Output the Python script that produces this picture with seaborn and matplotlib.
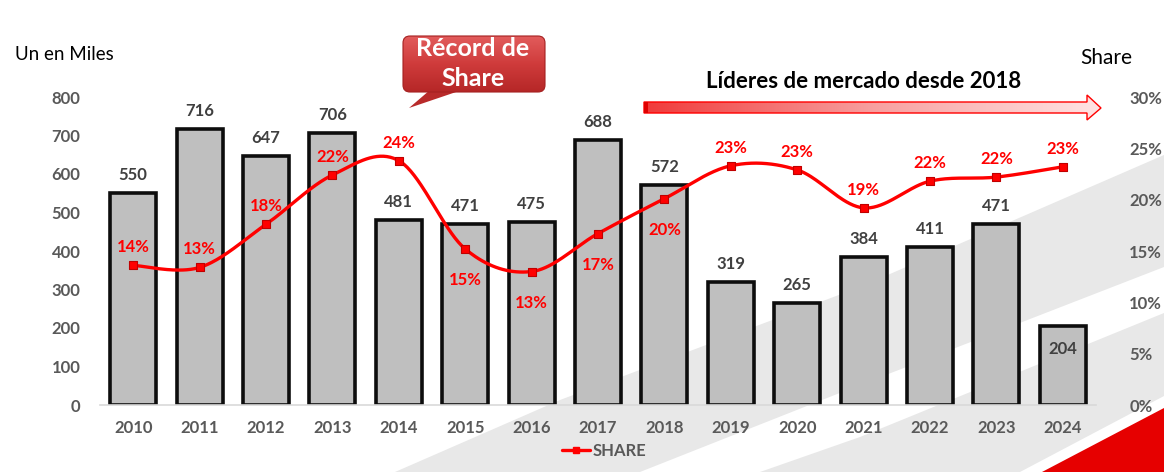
import matplotlib.pyplot as plt
import numpy as np
import pandas as pd
import seaborn as sns
from matplotlib.lines import Line2D
from matplotlib.patches import FancyBboxPatch, Polygon

# data
years = [str(y) for y in range(2010, 2025)]
units = [550, 716, 647, 706, 481, 471, 475, 688, 572, 319, 265, 384, 411, 471, 204]
share = [0.136, 0.134, 0.176, 0.224, 0.238, 0.152, 0.130, 0.167, 0.201,
         0.233, 0.229, 0.192, 0.218, 0.222, 0.232]
share_below = ["2015", "2016", "2017", "2018"]
left_ticks = [0, 100, 200, 300, 400, 500, 600, 700, 800]
right_ticks = [0.0, 0.05, 0.10, 0.15, 0.20, 0.25, 0.30]

W, H = 1164, 472
FONT = "Lato"
GRAY_TXT = "#595959"
RED = "#ff0000"
FS = 12

sns.set_theme(style="white")
plt.rcParams["font.family"] = [FONT, "DejaVu Sans"]


def smooth(xs, ys, n=40):
    # Bezier smoothing like the spreadsheet "smoothed line" option
    x = np.asarray(xs, float)
    y = np.asarray(ys, float)
    px = np.concatenate([[x[0]], x, [x[-1]]])
    py = np.concatenate([[y[0]], y, [y[-1]]])
    t = np.linspace(0, 1, n)
    out_x, out_y = [], []
    for i in range(len(x) - 1):
        p0 = np.array([px[i], py[i]])
        p1 = np.array([px[i + 1], py[i + 1]])
        p2 = np.array([px[i + 2], py[i + 2]])
        p3 = np.array([px[i + 3], py[i + 3]])
        c1 = p1 + (p2 - p0) / 6
        c2 = p2 - (p3 - p1) / 6
        b = ((1 - t) ** 3)[:, None] * p1 + (3 * (1 - t) ** 2 * t)[:, None] * c1 \
            + (3 * (1 - t) * t ** 2)[:, None] * c2 + (t ** 3)[:, None] * p2
        out_x.extend(b[:, 0])
        out_y.extend(b[:, 1])
    return out_x, out_y


fig = plt.figure(figsize=(W / 100, H / 100), dpi=100)

# background decoration in pixel coordinates
bg = fig.add_axes([0, 0, 1, 1], zorder=-1)
bg.set_xlim(0, W)
bg.set_ylim(H, 0)
bg.axis("off")
bg.add_patch(Polygon([(395, 472), (560, 400), (860, 287), (1164, 155), (1164, 472)],
                     closed=True, color="#e8e8e8", lw=0))
bg.add_patch(Polygon([(640, 472), (860, 385), (1164, 267), (1164, 313), (860, 437), (760, 472)],
                     closed=True, color="white", lw=0))
bg.add_patch(Polygon([(1020, 472), (1164, 396), (1164, 472)], closed=True, color="white", lw=0))
bg.add_patch(Polygon([(1042, 472), (1164, 408), (1164, 472)], closed=True, color="#e60000", lw=0))

# main chart
ax = fig.add_axes([100 / W, 1 - 405 / H, 996 / W, 308 / H])
ax.set_facecolor("none")
df = pd.DataFrame({"year": years, "units": units, "share": share})
sns.barplot(data=df, x="year", y="units", color="#bfbfbf", saturation=1,
            edgecolor="#0d0d0d", linewidth=2.6, width=0.69, ax=ax)
ax.set_xlim(-0.5, len(years) - 0.5)
ax.set_ylim(0, 800)
ax.set_yticks(left_ticks)
ax.set_xlabel("")
ax.set_ylabel("")
for s in ["top", "left", "right"]:
    ax.spines[s].set_visible(False)
ax.spines["bottom"].set_color("#d9d9d9")
ax.spines["bottom"].set_linewidth(1.2)
ax.tick_params(axis="y", length=0, pad=14, labelsize=FS, labelcolor=GRAY_TXT)
ax.tick_params(axis="x", length=0, pad=11, labelsize=FS, labelcolor=GRAY_TXT)
for lab in ax.get_xticklabels() + ax.get_yticklabels():
    lab.set_fontweight("bold")

for i, v in enumerate(units):
    if v < 250:
        ax.text(i, v - 23 * 800 / 308, f"{v}", ha="center", va="center",
                fontsize=FS, fontweight="bold", color="#404040")
    else:
        ax.text(i, v + 18 * 800 / 308, f"{v}", ha="center", va="center",
                fontsize=FS, fontweight="bold", color="#404040")

ax2 = ax.twinx()
ax2.set_ylim(0, 0.30)
ax2.set_yticks(right_ticks)
ax2.set_yticklabels([f"{int(round(t * 100))}%" for t in right_ticks])
for s in ax2.spines.values():
    s.set_visible(False)
ax2.tick_params(axis="y", length=0, pad=24, labelsize=FS, labelcolor=GRAY_TXT)
for lab in ax2.get_yticklabels():
    lab.set_fontweight("bold")
ax2.grid(False)
ax.grid(False)

sx, sy = smooth(range(len(years)), share)
ax2.plot(sx, sy, color=RED, lw=2.4, solid_capstyle="round")
sns.scatterplot(x=list(range(len(years))), y=share, marker="s", s=30, color=RED,
                edgecolor="#c00000", linewidth=0.8, ax=ax2, zorder=5)
for i, (yr, v) in enumerate(zip(years, share)):
    off = 31 if yr in share_below else -18
    ax2.text(i, v - off * 0.30 / 308, f"{int(round(v * 100))}%", ha="center", va="center",
             fontsize=FS, fontweight="bold", color=RED)

# axis titles
fig.text(15 / W, 1 - 54 / H, "Un en Miles", fontsize=13.5, color="black", va="center", ha="left")
fig.text(1080 / W, 1 - 58 / H, "Share", fontsize=15, color="black", va="center", ha="left")

# legend
fig.legend(handles=[Line2D([], [], color=RED, lw=2.4, marker="s", ms=5)], labels=["SHARE"],
           loc="center", bbox_to_anchor=(604 / W, 1 - 451 / H), frameon=False,
           handlelength=1.7, handletextpad=0.15,
           prop={"family": FONT, "weight": "bold", "size": FS}, labelcolor=GRAY_TXT)

# "Líderes de mercado" arrow with a red-to-pink gradient
arrow_pts = [(644, 102), (1087, 102), (1087, 95), (1101, 108), (1087, 120),
             (1087, 113), (644, 113)]
arrow = Polygon(arrow_pts, closed=True, facecolor="none", edgecolor=RED, lw=1.0, zorder=3)
bg.add_patch(arrow)
grad = np.linspace(0, 1, 256)[None, :]
cmap_arrow = sns.blend_palette(["#f03a3a", "#f7a0a0", "#ffe4e4"], as_cmap=True)
img = bg.imshow(grad, extent=(644, 1101, 120, 95), cmap=cmap_arrow, aspect="auto", zorder=2)
img.set_clip_path(Polygon(arrow_pts, closed=True, transform=bg.transData))
bg.add_patch(Polygon([(644, 102), (648, 102), (648, 113), (644, 113)], closed=True,
                     color="#e00000", lw=0, zorder=4))
bg.text(864, 81, "Líderes de mercado desde 2018", ha="center", va="center",
        fontsize=16, fontweight="bold", color="black")

# "Récord de Share" callout
bg.add_patch(Polygon([(430, 90), (462, 90), (409, 108)], closed=True,
                     facecolor="#b82a2a", edgecolor="none", zorder=2))
box = FancyBboxPatch((403, 36), 142, 56, boxstyle="round,pad=0,rounding_size=7",
                     facecolor="none", edgecolor="#a52020", lw=0.8, zorder=4)
bg.add_patch(box)
cmap_box = sns.blend_palette(["#e25c5c", "#cf3b3b", "#b52727"], as_cmap=True)
gimg = bg.imshow(np.linspace(0, 1, 256)[:, None], extent=(403, 545, 92, 36),
                 cmap=cmap_box, aspect="auto", zorder=3)
gimg.set_clip_path(FancyBboxPatch((403, 36), 142, 56, boxstyle="round,pad=0,rounding_size=7",
                                  transform=bg.transData))
bg.text(473, 49, "Récord de", ha="center", va="center", fontsize=18,
        fontweight="bold", color="white", zorder=5)
bg.text(473, 78, "Share", ha="center", va="center", fontsize=18,
        fontweight="bold", color="white", zorder=5)

fig.savefig("out.png", dpi=100)
